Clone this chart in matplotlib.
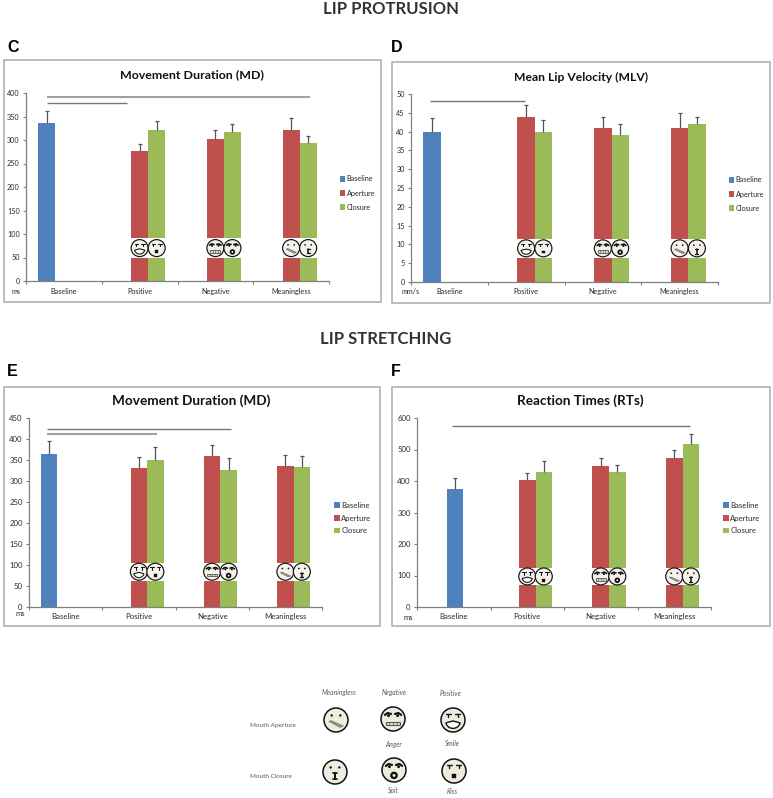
import numpy as np
import matplotlib
matplotlib.use("Agg")
import matplotlib.pyplot as plt
from matplotlib.patches import Circle, Rectangle, Polygon, Wedge

W, H = 773, 798
plt.rcParams['font.family'] = ['Lato', 'DejaVu Sans']

categories = ['Baseline', 'Positive', 'Negative', 'Meaningless']
series_names = ['Baseline', 'Aperture', 'Closure']
BLUE, RED, GREEN = '#4f81bd', '#c0504d', '#9bbb59'

# values: baseline, then positive / negative / meaningless
md_p_base, md_p_base_top = 337, 362
md_p_aperture = [277, 302, 321]
md_p_aperture_top = [292, 321, 347]
md_p_closure = [322, 316, 294]
md_p_closure_top = [341, 335, 308]

mlv_base, mlv_base_top = 40, 43.6
mlv_aperture = [44, 41, 41]
mlv_aperture_top = [47, 44, 45]
mlv_closure = [40, 39, 42]
mlv_closure_top = [43, 42, 44]

md_s_base, md_s_base_top = 365, 396
md_s_aperture = [330, 359, 336]
md_s_aperture_top = [358, 385, 361]
md_s_closure = [350, 326, 334]
md_s_closure_top = [380, 354, 360]

rt_base, rt_base_top = 375, 410
rt_aperture = [402, 448, 473]
rt_aperture_top = [424, 474, 500]
rt_closure = [430, 427, 516]
rt_closure_top = [465, 451, 549]

panels = [
    dict(letter='C', lxy=(13, 48), title='Movement Duration (MD)', txy=(192, 75), tfs=8.9, fs=5.2, ls=0.97,
         frame=(4, 60, 381, 302), ax=(26, 93, 329, 281), ymax=400, step=50,
         base=md_p_base, base_top=md_p_base_top, ap=md_p_aperture, ap_top=md_p_aperture_top,
         cl=md_p_closure, cl_top=md_p_closure_top, band=(49, 91), base_off=-0.225,
         unit='ms', uxy=(16, 292), leg=(340, 193),
         sig=[(-0.22, 3.25, 391, '#a0a0a0', 1.5), (-0.22, 0.83, 379, '#777777', 1.0)], labely=292),
    dict(letter='D', lxy=(397, 48), title='Mean Lip Velocity (MLV)', txy=(581, 77), tfs=8.7, fs=5.2, ls=0.97,
         frame=(392, 62, 770, 303), ax=(411, 94, 718, 282), ymax=50, step=5,
         base=mlv_base, base_top=mlv_base_top, ap=mlv_aperture, ap_top=mlv_aperture_top,
         cl=mlv_closure, cl_top=mlv_closure_top, band=(6.4, 11.5), base_off=-0.225,
         unit='mm/s', uxy=(411, 292), leg=(729, 194),
         sig=[(-0.25, 0.99, 48.2, '#777777', 1.0)], labely=292),
    dict(letter='E', lxy=(12, 372), title='Movement Duration (MD)', txy=(191, 401), tfs=9.8, fs=5.6, ls=0.73,
         frame=(4, 387, 380, 626), ax=(29, 418, 322, 607), ymax=450, step=50,
         base=md_s_base, base_top=md_s_base_top, ap=md_s_aperture, ap_top=md_s_aperture_top,
         cl=md_s_closure, cl_top=md_s_closure_top, band=(63, 105), base_off=-0.225,
         unit='ms', uxy=(20, 614), leg=(334, 518),
         sig=[(-0.25, 2.26, 425, '#777777', 1.0), (-0.25, 1.25, 411, '#a0a0a0', 1.5)], labely=617),
    dict(letter='F', lxy=(396, 372), title='Reaction Times (RTs)', txy=(580, 401), tfs=9.7, fs=5.6, ls=0.73,
         frame=(392, 387, 770, 626), ax=(417, 418, 711, 607), ymax=600, step=100,
         base=rt_base, base_top=rt_base_top, ap=rt_aperture, ap_top=rt_aperture_top,
         cl=rt_closure, cl_top=rt_closure_top, band=(70, 124), base_off=0.02,
         unit='ms', uxy=(408, 617), leg=(723, 518),
         sig=[(-0.03, 3.22, 575, '#777777', 1.0)], labely=617),
]

fig = plt.figure(figsize=(W / 100, H / 100), dpi=100, facecolor='white')
over = fig.add_axes([0, 0, 1, 1], zorder=10)
over.set_xlim(0, W)
over.set_ylim(H, 0)
over.axis('off')
over.patch.set_alpha(0)


def face(kind, cx, cy, r, lw=1.1, fill='#eeebdf'):
    ink = '#111111'
    over.add_patch(Circle((cx, cy), r, fc=fill, ec=ink, lw=lw))
    def P(u, v):
        return (cx + u * r, cy + v * r)
    def line(pts, w=1.0, c=ink):
        xs, ys = zip(*[P(*p) for p in pts])
        over.plot(xs, ys, color=c, lw=w, solid_capstyle='round')
    def dot(u, v, s=0.09, c=ink):
        over.add_patch(Circle(P(u, v), s * r, fc=c, ec='none'))
    if kind in ('smile', 'kiss'):
        for s in (-1, 1):
            line([(s * 0.58, -0.52), (s * 0.2, -0.52)], 0.9 * lw)
            line([(s * 0.38, -0.52), (s * 0.38, -0.22)], 0.9 * lw)
    if kind in ('anger', 'spit'):
        for s in (-1, 1):
            line([(s * 0.68, -0.34), (s * 0.45, -0.5), (s * 0.16, -0.42)], 1.4 * lw)
            dot(s * 0.38, -0.28, 0.12)
    if kind in ('neutral', 'odd'):
        for s in (-1, 1):
            dot(s * 0.36, -0.38, 0.1)
    if kind == 'smile':
        over.add_patch(Wedge(P(0, 0.08), 0.62 * r, 15, 165, fc='#ffffff', ec=ink, lw=0.9 * lw))
    elif kind == 'kiss':
        over.add_patch(Rectangle(P(-0.17, 0.28), 0.34 * r, 0.32 * r, fc=ink, ec=ink, lw=0.3))
    elif kind == 'anger':
        over.add_patch(Rectangle(P(-0.6, 0.22), 1.2 * r, 0.32 * r, fc='#d8d8d0', ec='#555555', lw=0.7 * lw))
        for u in (-0.3, 0, 0.3):
            line([(u, 0.22), (u, 0.54)], 0.4, '#555555')
    elif kind == 'spit':
        over.add_patch(Circle(P(0, 0.45), 0.22 * r, fc='#eeebdf', ec=ink, lw=1.5 * lw))
    elif kind == 'neutral':
        over.add_patch(Polygon([P(-0.6, 0.12), P(-0.4, 0.05), P(0.62, 0.5), P(0.35, 0.62)],
                               fc='#9a9a90', ec='#666666', lw=0.4))
    elif kind == 'odd':
        line([(-0.17, 0.12), (0.17, 0.12)], 1.1 * lw)
        line([(0, 0.12), (0, 0.62)], 1.3 * lw)
        line([(-0.17, 0.62), (0.17, 0.62)], 1.1 * lw)


face_kinds = [('smile', 'kiss'), ('anger', 'spit'), ('neutral', 'odd')]
BW = 0.225
AX_EDGE = '#7f7f7f'
TXT = '#2a2a2a'

for p in panels:
    l, t, r, b = p['ax']
    fs = p['fs']
    ax = fig.add_axes([l / W, 1 - b / H, (r - l) / W, (b - t) / H])
    ax.set_xlim(-0.5, 3.5)
    ax.set_ylim(0, p['ymax'])
    ax.patch.set_alpha(0)
    for s in ('top', 'right'):
        ax.spines[s].set_visible(False)
    for s in ('left', 'bottom'):
        ax.spines[s].set_color(AX_EDGE)
        ax.spines[s].set_linewidth(0.9)

    xs = np.arange(1, 4)
    b0 = ax.bar([p['base_off']], [p['base']], BW, color=BLUE, label=series_names[0])
    b1 = ax.bar(xs, p['ap'], BW, color=RED, label=series_names[1])
    b2 = ax.bar(xs + BW, p['cl'], BW, color=GREEN, label=series_names[2])

    xall = np.r_[p['base_off'], xs, xs + BW]
    yall = np.r_[p['base'], p['ap'], p['cl']]
    tops = np.r_[p['base_top'], p['ap_top'], p['cl_top']]
    eb = ax.errorbar(xall, yall, yerr=[np.zeros_like(yall, dtype=float), tops - yall], fmt='none',
                     ecolor='#555555', elinewidth=0.9, capsize=1.2, capthick=0.9, zorder=4)
    eb[1][0].set_visible(False)

    lo, hi = p['band']
    ax.bar(np.r_[xs, xs + BW], hi - lo, BW * 1.02, bottom=lo, color='white', zorder=3)

    for x0, x1, y, c, w in p['sig']:
        ax.plot([x0, x1], [y, y], color=c, lw=w, clip_on=False, solid_capstyle='butt')

    ax.set_yticks(np.arange(0, p['ymax'] + 1, p['step']))
    ax.tick_params(axis='y', labelsize=fs, length=2.5, width=0.8, color=AX_EDGE, labelcolor=TXT, pad=2)
    ax.set_xticks(np.arange(-0.5, 3.6, 1))
    ax.set_xticklabels([])
    ax.tick_params(axis='x', which='major', length=2.5, width=0.8, color=AX_EDGE)
    ax.set_xticks(np.arange(4), minor=True)
    ax.set_xticklabels(categories, minor=True, fontsize=fs, color=TXT)
    ax.tick_params(axis='x', which='minor', length=0, pad=(p['labely'] - b) * 0.72 - fs * 0.5)

    ax.set_title(p['title'], fontsize=p['tfs'], fontweight='bold', color='#111111', va='center', pad=0,
                 x=(p['txy'][0] - l) / (r - l), y=(b - p['txy'][1]) / (b - t))

    ax.legend(handles=[b0, b1, b2], loc='center left', frameon=False, fontsize=fs,
              bbox_to_anchor=(p['leg'][0] / W, 1 - p['leg'][1] / H), bbox_transform=fig.transFigure,
              borderpad=0, borderaxespad=0, handlelength=0.75, handleheight=0.75,
              handletextpad=0.2, labelspacing=p['ls'], labelcolor=TXT)

    fl, ft, fr, fb = p['frame']
    over.add_patch(Rectangle((fl, ft), fr - fl, fb - ft, fc='none', ec='#ababab', lw=1.1))
    over.text(*p['lxy'], p['letter'], fontsize=11.5, fontweight='bold', color='black',
              family='Liberation Sans', ha='center', va='center')
    over.text(*p['uxy'], p['unit'], fontsize=fs, color=TXT, ha='center', va='center')

    ymid = (lo + hi) / 2
    for i, (ka, kc) in enumerate(face_kinds):
        for xv, k in ((xs[i], ka), (xs[i] + BW, kc)):
            px, py = ax.transData.transform((xv, ymid))
            over_x, over_y = over.transData.inverted().transform((px, py))
            face(k, over_x, over_y, 8.5, lw=0.85, fill='#f4f2ea')

over.text(391, 9, 'LIP PROTRUSION', fontsize=12, fontweight='bold', color='#333333', ha='center', va='center')
over.text(386, 339, 'LIP STRETCHING', fontsize=12, fontweight='bold', color='#333333', ha='center', va='center')

# Key at the bottom
KEY = '#5a5a5a'
for x, s in ((339, 'Meaningless'), (394, 'Negative'), (451, 'Positive')):
    over.text(x, 693, s, fontsize=4.9, style='italic', color=KEY, ha='center', va='center')
over.text(273, 725, 'Mouth Aperture', fontsize=4.6, color=KEY, ha='center', va='center')
over.text(271, 777, 'Mouth Closure', fontsize=4.6, color=KEY, ha='center', va='center')
for x, y, s in ((394, 744, 'Anger'), (452, 743, 'Smile'), (393, 791, 'Spit'), (452, 791, 'Kiss')):
    over.text(x, y, s, fontsize=4.9, style='italic', color=KEY, ha='center', va='center')
for x, y, k in ((336, 720, 'neutral'), (393, 719, 'anger'), (453, 720, 'smile'),
                (335, 772, 'odd'), (394, 770, 'spit'), (454, 771, 'kiss')):
    face(k, x, y, 12, lw=1.1)

fig.savefig('out.png', dpi=100)
